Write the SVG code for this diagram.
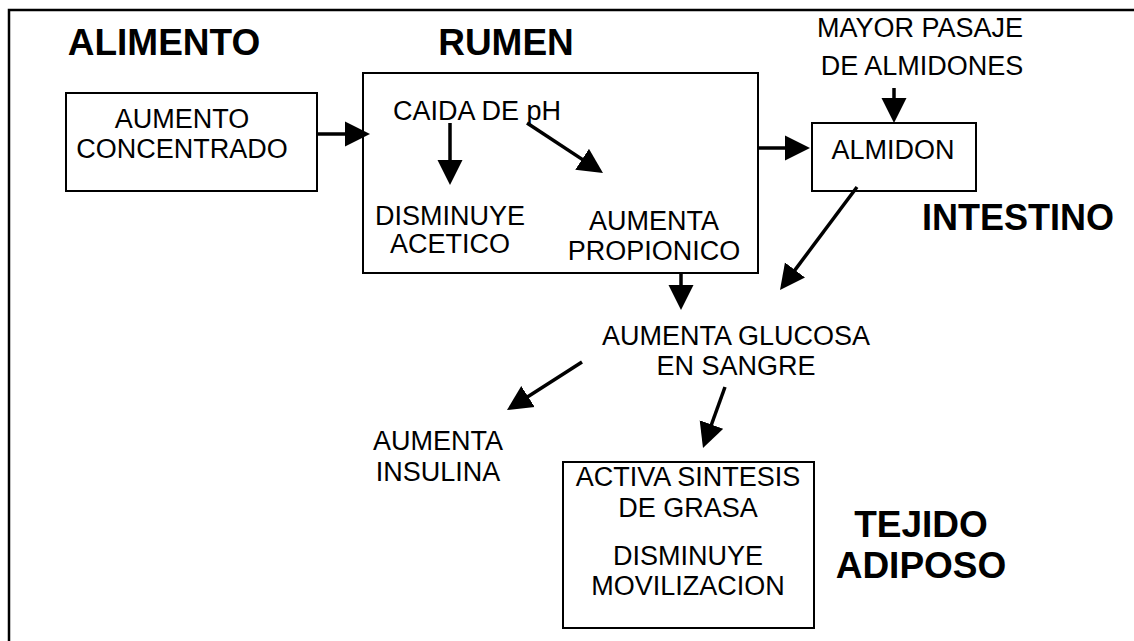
<svg xmlns="http://www.w3.org/2000/svg" width="1134" height="641" viewBox="0 0 1134 641">
<style>
.t{font-family:"Liberation Sans",Arial,sans-serif;font-size:27px;fill:#000;text-anchor:middle}
.h{font-family:"Liberation Sans",Arial,sans-serif;font-size:37px;font-weight:bold;fill:#000;text-anchor:middle}
.box{fill:#fff;stroke:#000;stroke-width:2}
.c line{stroke:#000;stroke-width:3.5;marker-end:url(#ah)}
</style>
<defs>
<marker id="ah" markerUnits="userSpaceOnUse" markerWidth="25" markerHeight="26" refX="17" refY="13" orient="auto">
<path d="M0,0.5 L25,13 L0,25.5 z" fill="#000"/>
</marker>
</defs>
<rect width="1134" height="641" fill="#fff"/>
<rect id="frame" x="9" y="10" width="1140" height="650" fill="none" stroke="#000" stroke-width="2.5"/>
<g id="labels">
<text class="h" x="164" y="55">ALIMENTO</text>
<text class="h" x="506" y="55">RUMEN</text>
<text class="h" x="1018" y="230" style="font-size:36px">INTESTINO</text>
<text class="h" x="921" y="537">TEJIDO</text>
<text class="h" x="921" y="578">ADIPOSO</text>
</g>
<g id="concentrado">
<rect class="box" x="66" y="93" width="251" height="98"/>
<text class="t" x="182" y="128">AUMENTO</text>
<text class="t" x="182" y="158">CONCENTRADO</text>
</g>
<g id="rumen">
<rect class="box" x="363" y="73" width="395" height="200"/>
<text class="t" x="477" y="120">CAIDA DE pH</text>
<text class="t" x="450" y="225">DISMINUYE</text>
<text class="t" x="450" y="253">ACETICO</text>
<text class="t" x="654" y="230">AUMENTA</text>
<text class="t" x="654" y="260">PROPIONICO</text>
</g>
<g id="pasaje">
<text class="t" x="920" y="37">MAYOR PASAJE</text>
<text class="t" x="922" y="75">DE ALMIDONES</text>
</g>
<g id="almidon">
<rect class="box" x="812" y="123" width="164" height="68"/>
<text class="t" x="893" y="159">ALMIDON</text>
</g>
<g id="glucosa">
<text class="t" x="736" y="345">AUMENTA GLUCOSA</text>
<text class="t" x="736" y="375">EN SANGRE</text>
</g>
<g id="insulina">
<text class="t" x="438" y="450">AUMENTA</text>
<text class="t" x="438" y="481">INSULINA</text>
</g>
<g id="adiposo">
<rect class="box" x="563" y="462" width="251" height="166"/>
<text class="t" x="688" y="486">ACTIVA SINTESIS</text>
<text class="t" x="688" y="517">DE GRASA</text>
<text class="t" x="688" y="565">DISMINUYE</text>
<text class="t" x="688" y="595">MOVILIZACION</text>
</g>
<g id="connectors" class="c">
<line x1="317" y1="134" x2="362" y2="134"/>
<line x1="450" y1="123" x2="450" y2="177"/>
<line x1="527" y1="123" x2="596.3" y2="168.6"/>
<line x1="758" y1="148" x2="802" y2="148"/>
<line x1="894" y1="88" x2="894" y2="115"/>
<line x1="857" y1="187" x2="784.8" y2="283.6"/>
<line x1="681" y1="273" x2="681" y2="302"/>
<line x1="582" y1="362" x2="513.7" y2="405.7"/>
<line x1="725" y1="387" x2="705.7" y2="440.5"/>
</g>
</svg>
